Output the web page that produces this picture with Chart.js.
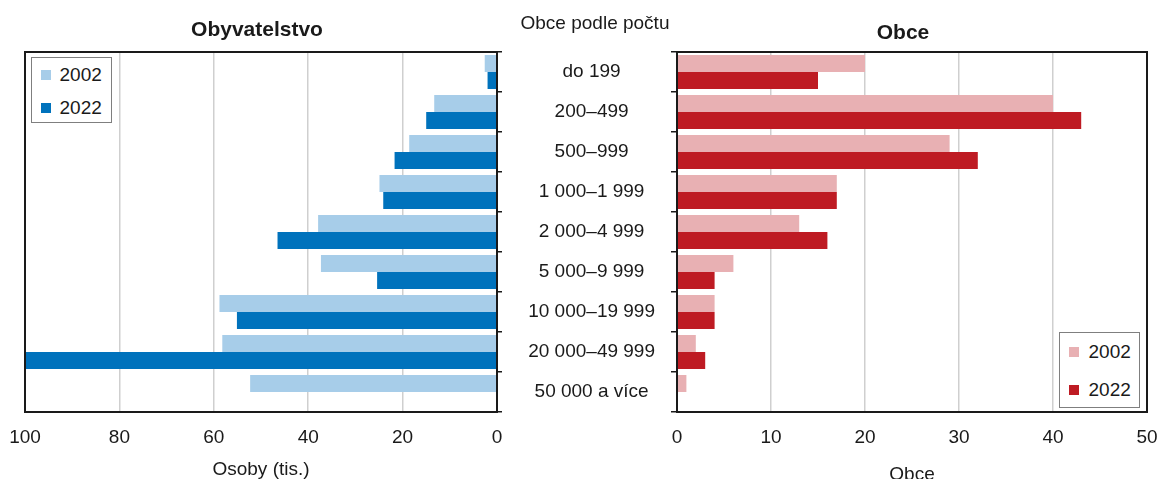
<!DOCTYPE html>
<html>
<head>
<meta charset="utf-8">
<script src="https://cdn.jsdelivr.net/npm/chart.js@4.4.1/dist/chart.umd.min.js"></script>
<style>
  body { margin: 0; background: #fff; font-family: "Liberation Sans", Arial, sans-serif; color: #1a1a1a; }
  #page { position: relative; width: 1160px; height: 479px; overflow: hidden; }
  .wrap { position: absolute; top: 0; height: 479px; }
  .head { position: absolute; transform: translate(-50%, -50%); line-height: 1; white-space: nowrap; }
  .legend { position: absolute; box-sizing: border-box; border: 1.5px solid #7f7f7f; background: #fff; font-size: 19px; }
  .legend .item { display: flex; align-items: center; }
  .legend .sw { display: inline-block; width: 10px; height: 10px; }
</style>
</head>
<body>
<div id="page">
  <div class="wrap" style="left:0; width:540px;"><canvas id="popChart"></canvas></div>
  <div class="wrap" style="left:500px; width:660px;"><canvas id="obceChart"></canvas></div>

  <div class="head" style="left:257px; top:28px; font-size:21px; font-weight:bold;">Obyvatelstvo</div>
  <div class="head" style="left:595px; top:22px; font-size:19px;">Obce podle počtu</div>
  <div class="head" style="left:903px; top:31px; font-size:21px; font-weight:bold;">Obce</div>

  <div id="popLegend" class="legend" style="left:31px; top:57px; width:81px; height:66px; padding-left:8.5px;"></div>
  <div id="obceLegend" class="legend" style="left:1059px; top:332px; width:81px; height:76px; padding-left:8.5px;"></div>
</div>

<script>
const categories = ["do 199", "200–499", "500–999", "1 000–1 999", "2 000–4 999",
  "5 000–9 999", "10 000–19 999", "20 000–49 999", "50 000 a více"];
const years = ["2002", "2022"];

// obyvatelstvo v tis. osob
const pop2002 = [2.6, 13.3, 18.6, 24.9, 37.9, 37.3, 58.8, 58.2, 52.3];
const pop2022 = [2.0, 15.0, 21.7, 24.1, 46.5, 25.4, 55.1, 100, 0];

// pocet obci
const obce2002 = [20, 40, 29, 17, 13, 6, 4, 2, 1];
const obce2022 = [15, 43, 32, 17, 16, 4, 4, 3, 0];

const popTicks = [0, 20, 40, 60, 80, 100];
const obceTicks = [0, 10, 20, 30, 40, 50];

const FONT = "'Liberation Sans', Arial, sans-serif";
const INK = "#1a1a1a";
const GRID = "#cfcfcf";

// box around the plot area
const frame = {
  id: "frame",
  afterDraw(chart) {
    const { ctx, chartArea: a } = chart;
    ctx.save();
    ctx.strokeStyle = INK;
    ctx.lineWidth = 2;
    ctx.strokeRect(a.left, a.top, a.right - a.left, a.bottom - a.top);
    ctx.restore();
  },
};

// legend as html, fed from the chart's own legend items
const htmlLegend = {
  id: "htmlLegend",
  afterUpdate(chart, args, opts) {
    const box = document.getElementById(opts.containerID);
    box.innerHTML = "";
    const items = chart.options.plugins.legend.labels.generateLabels(chart);
    items.forEach((item) => {
      const row = document.createElement("div");
      row.className = "item";
      row.style.height = opts.rowHeight + "px";
      const sw = document.createElement("span");
      sw.className = "sw";
      sw.style.background = item.fillStyle;
      sw.style.marginRight = opts.gap + "px";
      const txt = document.createElement("span");
      txt.textContent = item.text;
      row.append(sw, txt);
      box.append(row);
    });
  },
};

Chart.register(frame, htmlLegend);

function makeDatasets(a, b, light, dark) {
  return [
    { label: years[0], data: a, backgroundColor: light, borderWidth: 0,
      categoryPercentage: 0.85, barPercentage: 1.0 },
    { label: years[1], data: b, backgroundColor: dark, borderWidth: 0,
      categoryPercentage: 0.85, barPercentage: 1.0 },
  ];
}

function xAxis(ticksArr, reverse, title, titleBottom) {
  return {
    type: "linear",
    min: ticksArr[0],
    max: ticksArr[ticksArr.length - 1],
    reverse: reverse,
    afterBuildTicks: (s) => { s.ticks = ticksArr.map((v) => ({ value: v })); },
    afterFit: (s) => {
      s.height = 67;
      // edge labels may overflow, layout padding handles it
      s.paddingLeft = 0;
      s.paddingRight = 0;
    },
    border: { display: false },
    grid: {
      color: (c) => (c.tick && (c.tick.value === ticksArr[0] || c.tick.value === ticksArr[ticksArr.length - 1]) ? "rgba(0,0,0,0)" : GRID),
      lineWidth: 1.5,
      drawTicks: false,
    },
    ticks: { padding: 14, color: INK, font: { family: FONT, size: 19 } },
    title: {
      display: true,
      text: title,
      color: INK,
      font: { family: FONT, size: 19, lineHeight: 1 },
      padding: { top: 0, bottom: titleBottom },
    },
  };
}

new Chart(document.getElementById("popChart"), {
  type: "bar",
  data: { labels: categories, datasets: makeDatasets(pop2002, pop2022, "#a7cde9", "#0072bc") },
  options: {
    indexAxis: "y",
    responsive: true,
    maintainAspectRatio: false,
    animation: false,
    layout: { padding: { top: 52, left: 25, right: 37, bottom: 0 } },
    scales: {
      x: xAxis(popTicks, true, "Osoby (tis.)", 0),
      y: {
        position: "right",
        afterFit: (s) => { s.width = 6; },
        border: { display: false },
        grid: { drawOnChartArea: false, drawTicks: true, tickLength: 5, color: INK, lineWidth: 1.5, offset: true },
        ticks: { display: false },
      },
    },
    plugins: {
      legend: { display: false },
      tooltip: { enabled: false },
      htmlLegend: { containerID: "popLegend", rowHeight: 33, gap: 9 },
    },
  },
});

new Chart(document.getElementById("obceChart"), {
  type: "bar",
  data: { labels: categories, datasets: makeDatasets(obce2002, obce2022, "#e8b0b3", "#be1b23") },
  options: {
    indexAxis: "y",
    responsive: true,
    maintainAspectRatio: false,
    animation: false,
    layout: { padding: { top: 52, left: 0, right: 13, bottom: 0 } },
    scales: {
      x: xAxis(obceTicks, false, "Obce", -5),
      y: {
        position: "left",
        afterFit: (s) => { s.width = 177; },
        border: { display: false },
        grid: { drawOnChartArea: false, drawTicks: true, tickLength: 6, color: INK, lineWidth: 1.5, offset: true },
        ticks: { color: INK, crossAlign: "center", padding: 16, font: { family: FONT, size: 19 } },
      },
    },
    plugins: {
      legend: { display: false },
      tooltip: { enabled: false },
      htmlLegend: { containerID: "obceLegend", rowHeight: 38, gap: 10 },
    },
  },
});
</script>
</body>
</html>
